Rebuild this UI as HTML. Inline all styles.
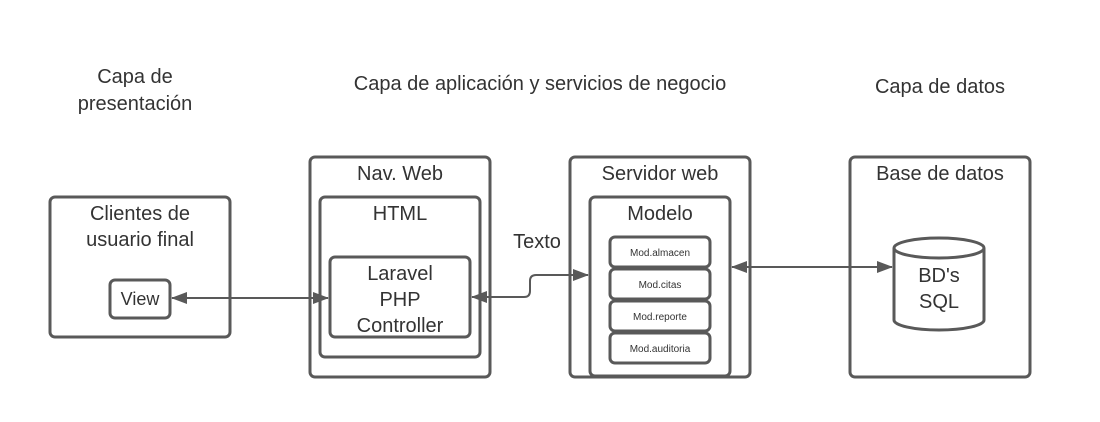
<!DOCTYPE html>
<html><head><style>
body{margin:0;background:#fff;width:1100px;height:417px;overflow:hidden}
svg text{font-family:"Liberation Sans",sans-serif;fill:#333}
</style></head><body>
<svg width="1100" height="417" viewBox="0 0 1100 417">
<defs>
<marker id="a" markerWidth="16" markerHeight="12" refX="15" refY="6" orient="auto-start-reverse" markerUnits="userSpaceOnUse">
<path d="M0,0 L16,6 L0,12 Z" fill="#595959"/></marker>
</defs>
<g font-size="20" text-anchor="middle">
<text x="135" y="83">Capa de</text>
<text x="135" y="110">presentación</text>
<text x="540" y="90">Capa de aplicación y servicios de negocio</text>
<text x="940" y="93">Capa de datos</text>
</g>
<g fill="none" stroke="#595959" stroke-width="3">
<rect x="50" y="197" width="180" height="140" rx="5"/>
<rect x="110" y="280" width="60" height="38" rx="5"/>
<rect x="310" y="157" width="180" height="220" rx="5"/>
<rect x="320" y="197" width="160" height="160" rx="5"/>
<rect x="330" y="257" width="140" height="80" rx="5"/>
<rect x="570" y="157" width="180" height="220" rx="5"/>
<rect x="590" y="197" width="140" height="179" rx="5"/>
<rect x="610" y="237" width="100" height="30" rx="5"/>
<rect x="610" y="269" width="100" height="30" rx="5"/>
<rect x="610" y="301" width="100" height="30" rx="5"/>
<rect x="610" y="333" width="100" height="30" rx="5"/>
<rect x="850" y="157" width="180" height="220" rx="5"/>
<path d="M894,248 L894,320 A45,10 0 0 0 984,320 L984,248"/>
<ellipse cx="939" cy="248" rx="45" ry="10"/>
</g>
<g fill="none" stroke="#595959" stroke-width="2">
<path d="M172,298 L328,298" marker-start="url(#a)" marker-end="url(#a)"/>
<path d="M472,297 L524,297 Q530,297 530,291 L530,281 Q530,275 536,275 L588,275" marker-start="url(#a)" marker-end="url(#a)"/>
<path d="M732,267 L892,267" marker-start="url(#a)" marker-end="url(#a)"/>
</g>
<g font-size="20" text-anchor="middle">
<text x="140" y="220">Clientes de</text>
<text x="140" y="246">usuario final</text>
<text x="140" y="305" font-size="18">View</text>
<text x="400" y="180">Nav. Web</text>
<text x="400" y="220">HTML</text>
<text x="400" y="280">Laravel</text>
<text x="400" y="306">PHP</text>
<text x="400" y="332">Controller</text>
<text x="537" y="248">Texto</text>
<text x="660" y="180">Servidor web</text>
<text x="660" y="220">Modelo</text>
<text x="940" y="180">Base de datos</text>
<text x="939" y="282">BD's</text>
<text x="939" y="308">SQL</text>
</g>
<g font-size="10" text-anchor="middle">
<text x="660" y="256">Mod.almacen</text>
<text x="660" y="288">Mod.citas</text>
<text x="660" y="320">Mod.reporte</text>
<text x="660" y="352">Mod.auditoria</text>
</g>
</svg>
</body></html>
